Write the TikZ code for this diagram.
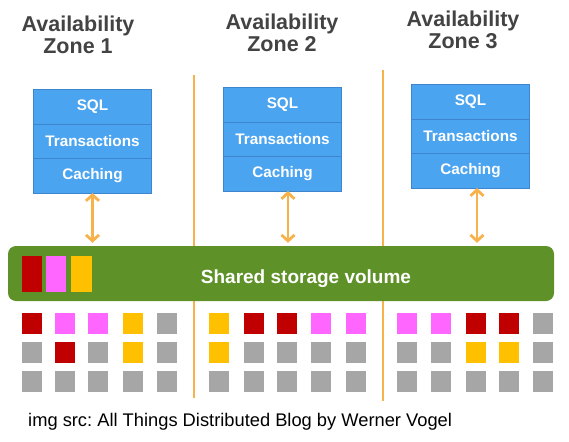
\documentclass[tikz,border=0pt]{standalone}
\usepackage{fontspec}
\setmainfont{Liberation Sans}
\usetikzlibrary{arrows.meta}
\frenchspacing

\definecolor{zonegray}{HTML}{434343}
\definecolor{layerblue}{HTML}{4AA4EF}
\definecolor{layerline}{HTML}{3D86CF}
\definecolor{volgreen}{HTML}{5E9128}
\definecolor{azline}{HTML}{F8B24C}
\definecolor{blkred}{HTML}{C00000}
\definecolor{blkpink}{HTML}{FF66FF}
\definecolor{blkyellow}{HTML}{FFC000}
\definecolor{blkgray}{HTML}{A6A6A6}

\begin{document}
\begin{tikzpicture}[x=1pt, y=-1pt,
	zone/.style={align=center, anchor=north, inner sep=0pt, text=zonegray,
		font=\bfseries\fontsize{21.5}{22}\selectfont},
	layer/.style={draw=layerline, fill=layerblue, minimum width=118pt,
		minimum height=34.5pt, inner sep=0pt, text=white,
		font=\bfseries\fontsize{15.3}{18}\selectfont},
	volume/.style={fill=volgreen, rounded corners=8pt, minimum width=546pt,
		minimum height=55pt, inner sep=0pt},
	voltext/.style={anchor=base, inner sep=0pt, text=white,
		font=\bfseries\fontsize{19}{22}\selectfont},
	sep/.style={draw=azline, line width=2.5pt},
	link/.style={draw=azline, line width=2.8pt,
		{Straight Barb[length=6pt,width=13pt,line width=2.8pt]}-{Straight Barb[length=6pt,width=13pt,line width=2.8pt]}}
]
	\useasboundingbox (0, 0) rectangle (569, 441);

	\node[zone] (az1) at (78, 16) {Availability\\Zone 1};
	\node[zone] (az2) at (282, 14) {Availability\\Zone 2};
	\node[zone] (az3) at (463, 11) {Availability\\Zone 3};

	\node[layer] (sql1) at (92.5, 106.5) {SQL};
	\node[layer] (trans1) at (92.5, 141) {Transactions};
	\node[layer] (cache1) at (92.5, 175.5) {Caching};
	\node[layer] (sql2) at (282.5, 104.5) {SQL};
	\node[layer] (trans2) at (282.5, 139) {Transactions};
	\node[layer] (cache2) at (282.5, 173.5) {Caching};
	\node[layer] (sql3) at (470.5, 101.5) {SQL};
	\node[layer] (trans3) at (470.5, 136) {Transactions};
	\node[layer] (cache3) at (470.5, 170.5) {Caching};

	\draw[sep] (194, 75) -- (194, 398);
	\draw[sep] (383, 70) -- (383, 401);

	\node[volume] (bar) at (281, 273.5) {};
	\node[voltext] (bartext) at (306, 283) {Shared storage volume};

	\draw[link, shorten >=3pt] (cache1.south) -- (cache1.south |- bar.north);
	\draw[link, shorten >=3pt] ([xshift=5.5pt]cache2.south) -- ([xshift=5.5pt]cache2.south |- bar.north);
	\draw[link, shorten >=3pt] ([xshift=6.5pt]cache3.south) -- ([xshift=6.5pt]cache3.south |- bar.north);

	% blocks in the volume
	\fill[blkred] (22, 256) rectangle ++(20, 36);
	\fill[blkpink] (46, 256) rectangle ++(20, 36);
	\fill[blkyellow] (71, 256) rectangle ++(21, 36);

	% red blocks
	\fill[blkred] (22, 313) rectangle ++(20, 21);
	\fill[blkred] (55, 342) rectangle ++(20, 21);
	\fill[blkred] (244, 313) rectangle ++(20, 21);
	\fill[blkred] (277, 313) rectangle ++(20, 21);
	\fill[blkred] (466, 313) rectangle ++(20, 21);
	\fill[blkred] (499, 313) rectangle ++(20, 21);

	% pink blocks
	\fill[blkpink] (55, 313) rectangle ++(20, 21);
	\fill[blkpink] (88, 313) rectangle ++(20, 21);
	\fill[blkpink] (311, 313) rectangle ++(20, 21);
	\fill[blkpink] (346, 313) rectangle ++(20, 21);
	\fill[blkpink] (397, 313) rectangle ++(20, 21);
	\fill[blkpink] (431, 313) rectangle ++(20, 21);

	% yellow blocks
	\fill[blkyellow] (123, 313) rectangle ++(20, 21);
	\fill[blkyellow] (123, 342) rectangle ++(20, 21);
	\fill[blkyellow] (209, 313) rectangle ++(20, 21);
	\fill[blkyellow] (209, 342) rectangle ++(20, 21);
	\fill[blkyellow] (466, 342) rectangle ++(20, 21);
	\fill[blkyellow] (499, 342) rectangle ++(20, 21);

	% gray blocks
	\fill[blkgray] (157, 313) rectangle ++(20, 21);
	\fill[blkgray] (22, 342) rectangle ++(20, 21);
	\fill[blkgray] (88, 342) rectangle ++(20, 21);
	\fill[blkgray] (157, 342) rectangle ++(20, 21);
	\fill[blkgray] (22, 371) rectangle ++(20, 21);
	\fill[blkgray] (55, 371) rectangle ++(20, 21);
	\fill[blkgray] (88, 371) rectangle ++(20, 21);
	\fill[blkgray] (123, 371) rectangle ++(20, 21);
	\fill[blkgray] (157, 371) rectangle ++(20, 21);
	\fill[blkgray] (244, 342) rectangle ++(20, 21);
	\fill[blkgray] (277, 342) rectangle ++(20, 21);
	\fill[blkgray] (311, 342) rectangle ++(20, 21);
	\fill[blkgray] (346, 342) rectangle ++(20, 21);
	\fill[blkgray] (209, 371) rectangle ++(20, 21);
	\fill[blkgray] (244, 371) rectangle ++(20, 21);
	\fill[blkgray] (277, 371) rectangle ++(20, 21);
	\fill[blkgray] (311, 371) rectangle ++(20, 21);
	\fill[blkgray] (346, 371) rectangle ++(20, 21);
	\fill[blkgray] (533, 313) rectangle ++(20, 21);
	\fill[blkgray] (397, 342) rectangle ++(20, 21);
	\fill[blkgray] (431, 342) rectangle ++(20, 21);
	\fill[blkgray] (533, 342) rectangle ++(20, 21);
	\fill[blkgray] (397, 371) rectangle ++(20, 21);
	\fill[blkgray] (431, 371) rectangle ++(20, 21);
	\fill[blkgray] (466, 371) rectangle ++(20, 21);
	\fill[blkgray] (499, 371) rectangle ++(20, 21);
	\fill[blkgray] (533, 371) rectangle ++(20, 21);

	\node[anchor=base west, inner sep=0pt, font=\fontsize{18.3}{21}\selectfont] (credit) at (28, 426) {img src: All Things Distributed Blog by Werner Vogel};

\end{tikzpicture}
\end{document}
